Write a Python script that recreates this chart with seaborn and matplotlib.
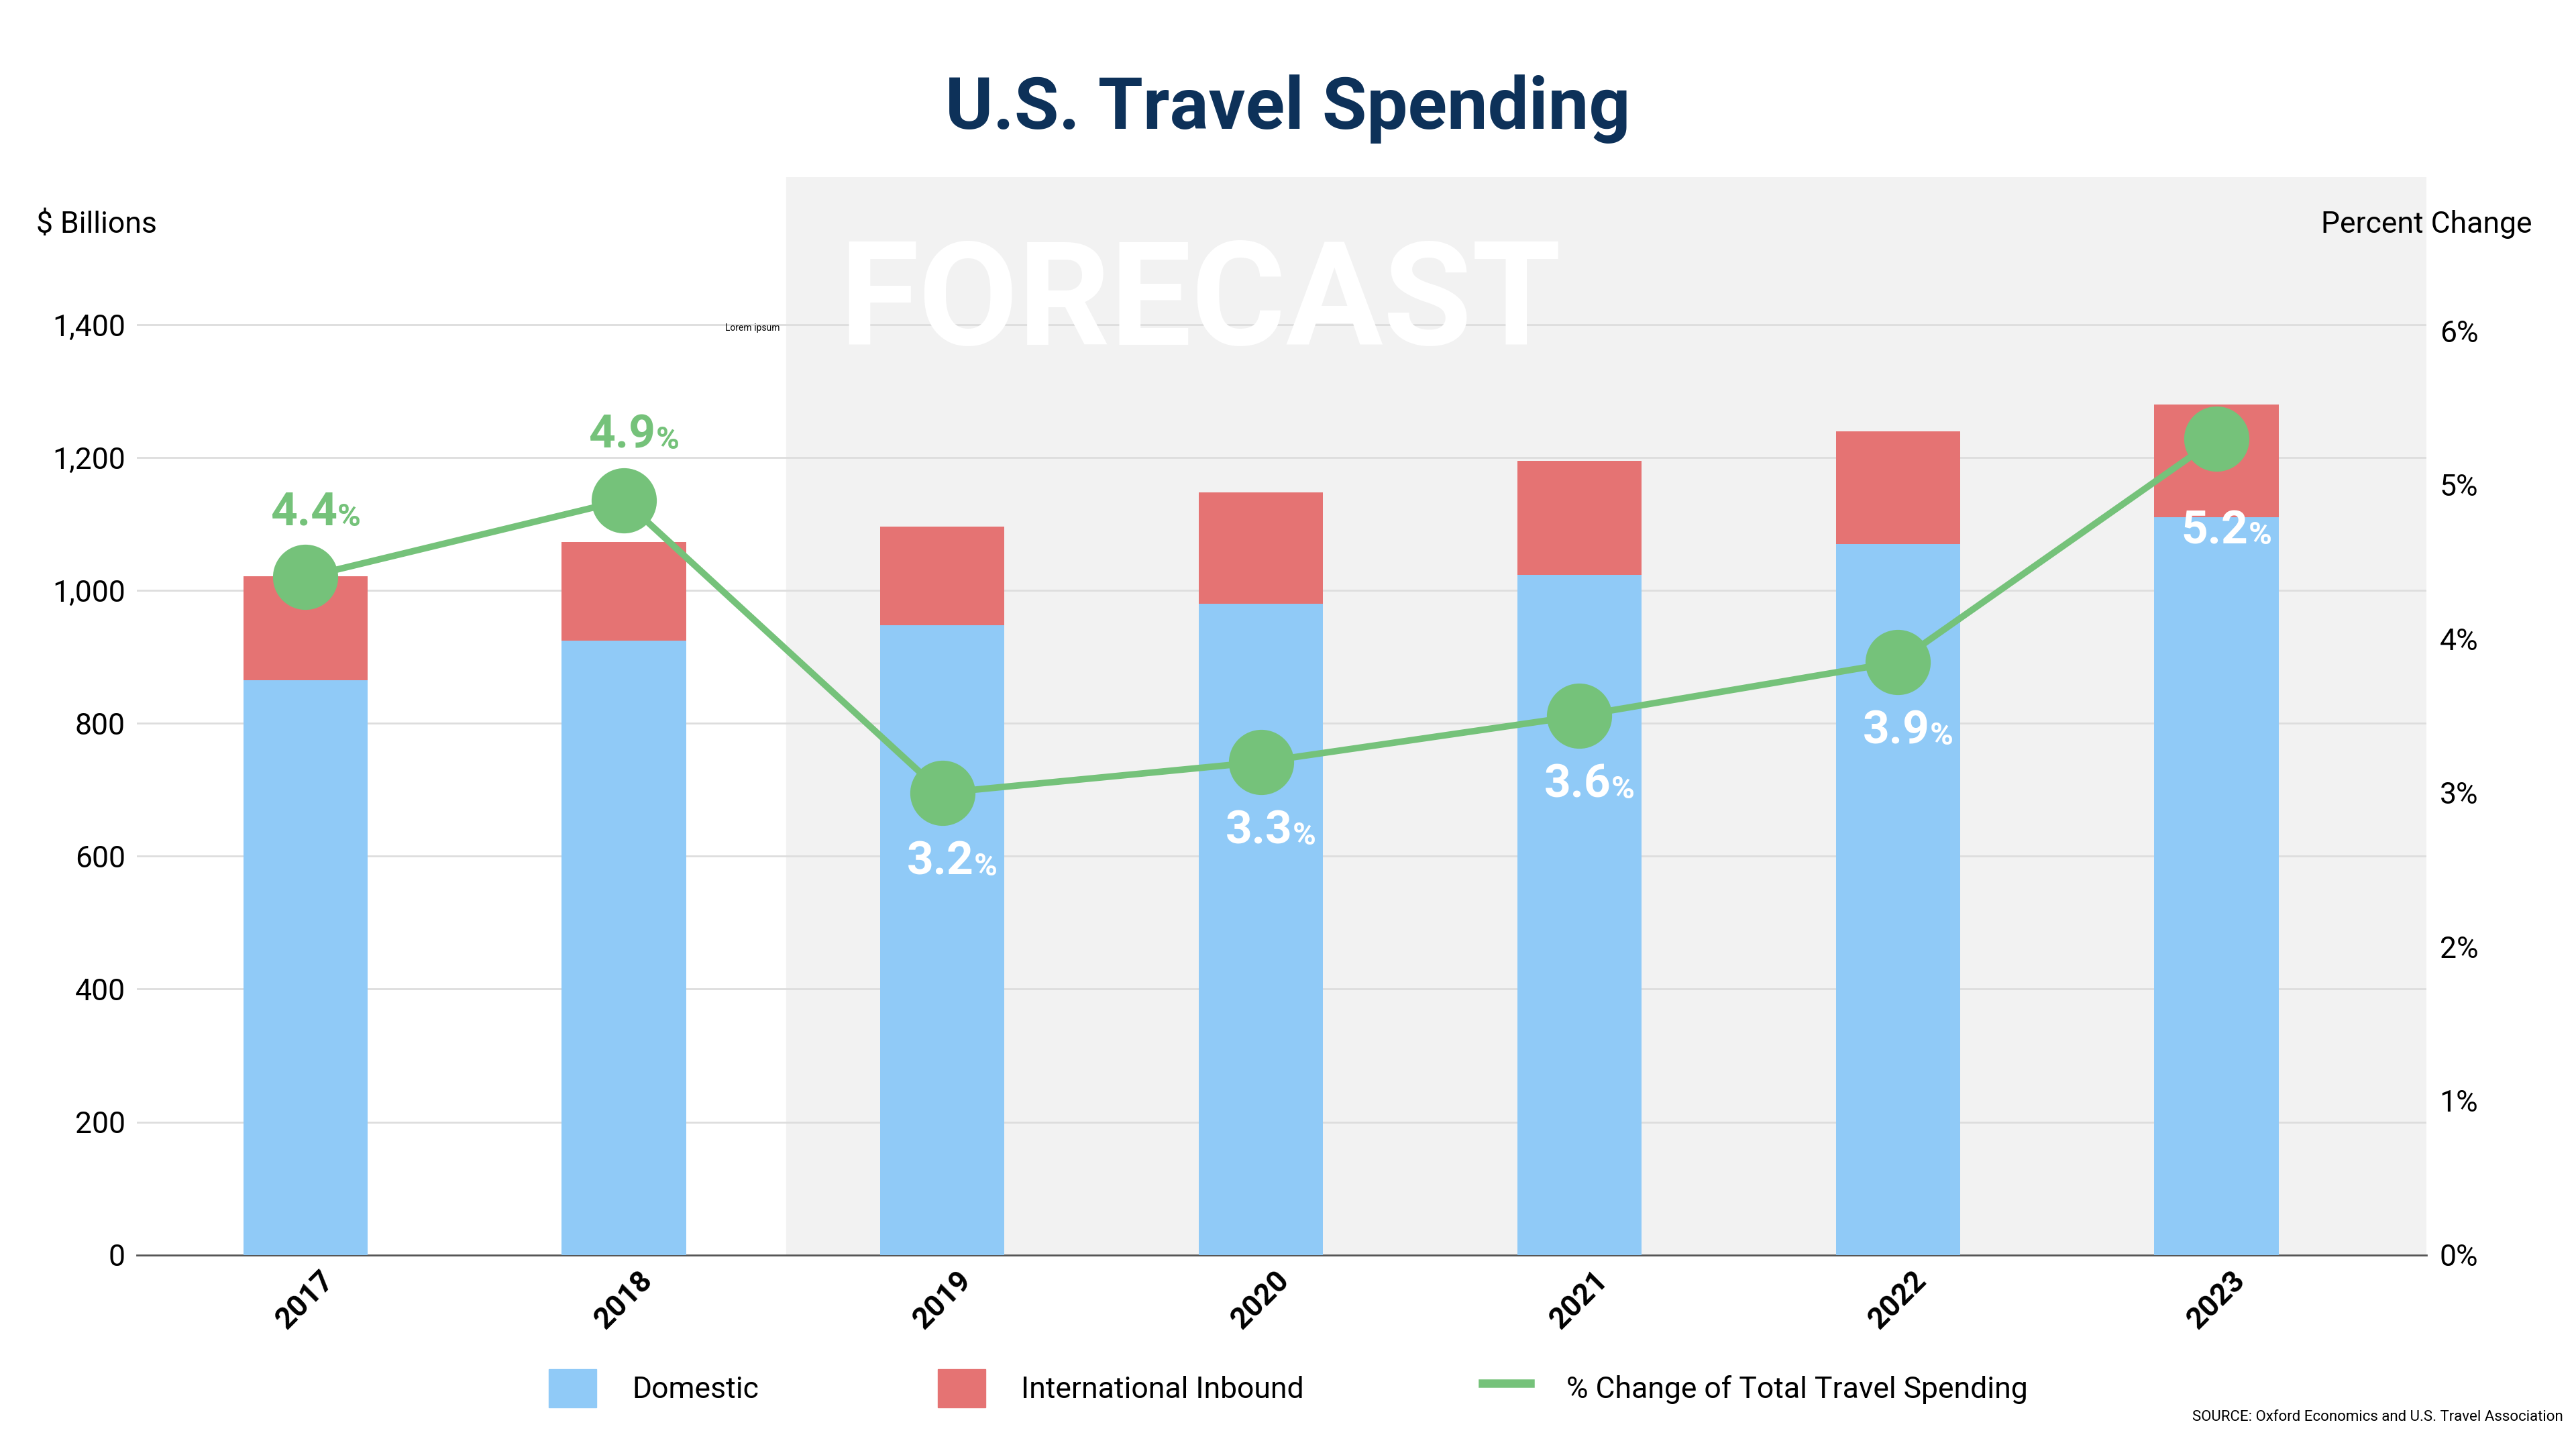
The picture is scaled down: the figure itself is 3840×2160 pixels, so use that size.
import matplotlib
matplotlib.use("Agg")
import matplotlib.pyplot as plt
import seaborn as sns
import pandas as pd
from matplotlib.patches import Patch
from matplotlib.lines import Line2D

years = ["2017", "2018", "2019", "2020", "2021", "2022", "2023"]
domestic = [865, 925, 948, 980, 1024, 1070, 1110]
total = [1022, 1073, 1096, 1148, 1195, 1240, 1280]
pct_pos = [4.4, 4.9, 3.0, 3.2, 3.5, 3.85, 5.3]
pct_labels = ["4.4", "4.9", "3.2", "3.3", "3.6", "3.9", "5.2"]

BLUE = "#90CAF7"
RED = "#E57373"
GREEN = "#75C27A"
NAVY = "#0D3159"

plt.rcParams["font.family"] = "Roboto"
df = pd.DataFrame({"year": years, "domestic": domestic, "total": total, "pct": pct_pos})

fig = plt.figure(figsize=(38.4, 21.6), dpi=100)
ax = fig.add_axes([0.053, 0.134, 0.889, 0.744])
ax.axvspan(1.51, 6.66, color="#F2F2F2", zorder=0)
sns.barplot(data=df, x="year", y="total", color=RED, width=0.39, ax=ax, saturation=1, zorder=2)
sns.barplot(data=df, x="year", y="domestic", color=BLUE, width=0.39, ax=ax, saturation=1, zorder=3)
ax.set_xlim(-0.53, 6.66)
ax.set_ylim(0, 1623)
ax.set_yticks(range(0, 1401, 200))
ax.set_yticklabels([f"{v:,}" for v in range(0, 1401, 200)], fontsize=32)
ax.set_xticks(range(7))
ax.set_xticklabels(years, rotation=45, fontsize=32, fontweight="bold")
ax.set_xlabel(""); ax.set_ylabel("")
ax.grid(axis="y", color="#DDDDDD", linewidth=2, zorder=1)
ax.set_axisbelow(True)
for s in ["top", "right", "left"]:
    ax.spines[s].set_visible(False)
ax.spines["bottom"].set_color("#555555")
ax.spines["bottom"].set_linewidth(2)
ax.tick_params(length=0, pad=12)

ax.text(2.81, 1370, "FORECAST", fontsize=155, fontweight="bold", color="white",
        ha="center", va="baseline", zorder=1.5)
ax.text(1.49, 1395, "Lorem ipsum", fontsize=10, ha="right", va="center", zorder=4)

ax2 = ax.twinx()
sns.lineplot(data=df, x="year", y="pct", color=GREEN, linewidth=7, marker="o",
             markersize=70, markeredgewidth=0, ax=ax2, zorder=5, sort=False)
ax2.set_ylim(0, 7.0)
ax2.set_yticks(range(0, 7))
ax2.set_yticklabels([f"{v}%" for v in range(0, 7)], fontsize=32)
ax2.set_ylabel("")
ax2.tick_params(length=0, pad=14)
for s in ["top", "right", "left", "bottom"]:
    ax2.spines[s].set_visible(False)

for i, (p, lab) in enumerate(zip(pct_pos, pct_labels)):
    if i < 2:
        y, col = p + 0.42, GREEN
    elif i == 6:
        y, col = p - 0.6, "white"
    else:
        y, col = p - 0.45, "white"
    ax2.text(i + 0.1, y, lab, fontsize=50, fontweight="bold", color=col, ha="right", va="center", zorder=6)
    ax2.text(i + 0.1, y - 0.03, "%", fontsize=34, fontweight="bold", color=col, ha="left", va="center", zorder=6)

fig.text(0.5, 0.925, "U.S. Travel Spending", fontsize=78, fontweight="bold", color=NAVY, ha="center", va="center")
fig.text(0.014, 0.845, "$ Billions", fontsize=32, ha="left", va="center")
fig.text(0.983, 0.845, "Percent Change", fontsize=32, ha="right", va="center")
fig.text(0.995, 0.022, "SOURCE: Oxford Economics and U.S. Travel Association", fontsize=16, ha="right", va="center")

handles = [Patch(color=BLUE), Patch(color=RED), Line2D([], [], color=GREEN, linewidth=9)]
fig.legend(handles, ["Domestic", "International Inbound", "% Change of Total Travel Spending"],
           loc="center", bbox_to_anchor=(0.5, 0.042), ncol=3, frameon=False, fontsize=32,
           handlelength=1.6, handleheight=1.6, columnspacing=6, handletextpad=1.2)

fig.savefig("out.png", dpi=100)
